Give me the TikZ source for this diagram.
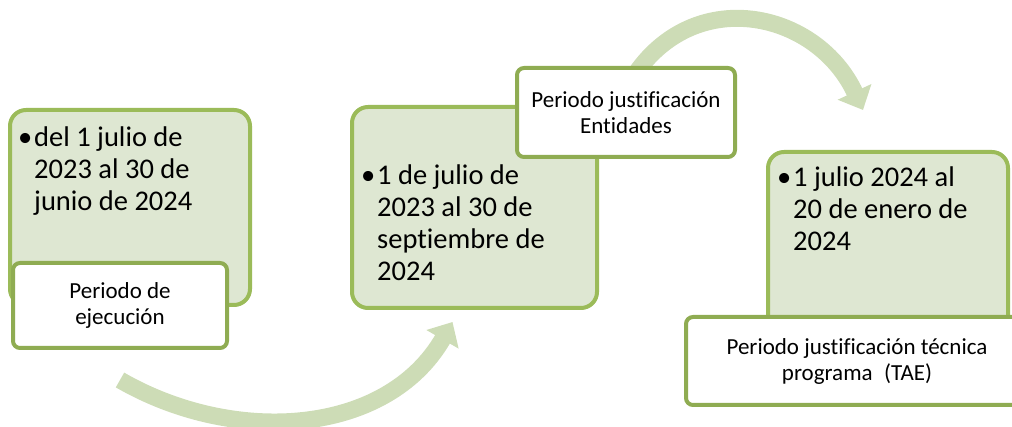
\documentclass[tikz,border=0pt]{standalone}
\usepackage{fontspec}
\setmainfont{Carlito}[Ligatures=CommonOff]
\usetikzlibrary{positioning, arrows.meta, backgrounds}
\definecolor{phaseline}{RGB}{155,187,89}
\definecolor{phasefill}{RGB}{222,231,210}
\definecolor{tagline}{RGB}{143,172,82}
\definecolor{flowgreen}{RGB}{205,220,182}

\begin{document}
\begin{tikzpicture}[
        x=1pt, y=-1pt,
        phase/.style={rectangle, draw=phaseline, fill=phasefill, line width=4pt, rounded corners=16pt, inner sep=0pt, outer sep=0pt},
        tagbox/.style={rectangle, draw=tagline, fill=white, line width=4pt, rounded corners=7pt, inner sep=0pt, outer sep=0pt, align=center, font=\fontsize{23}{26}\selectfont},
        dates/.style={align=left, anchor=north west, inner sep=0pt, font=\fontsize{28.5}{32}\selectfont},
        flow/.style={draw=flowgreen, line width=17pt, -{Triangle[width=36pt, length=20pt]}}
    ]
        \useasboundingbox (0,0) rectangle (1012,427);

        % Phases
        \node[phase, minimum width=240pt, minimum height=195pt] (G1) at (130,207.5) {};
        \node[dates, below right=17pt and 24pt of G1.north west] (D1) {\llap{•\kern2pt}del 1 julio de\\2023 al 30 de\\junio de 2024};
        \node[tagbox, minimum width=214pt, minimum height=85pt] (T1) at (120,305.5) {Periodo de\\ejecución};

        \node[phase, minimum width=245pt, minimum height=201pt] (G2) at (474.5,207.5) {};
        \node[dates, below right=58pt and 25pt of G2.north west] (D2) {\llap{•\kern2pt}1 de julio de\\2023 al 30 de\\septiembre de\\2024};
        \node[tagbox, minimum width=218pt, minimum height=89pt] (T2) at (626,112.5) {Periodo justificación\\Entidades};

        \node[phase, minimum width=240pt, minimum height=188pt] (G3) at (888,246) {};
        \node[dates, below right=15pt and 25pt of G3.north west] (D3) {\llap{•\kern2pt}1 julio 2024 al\\20 de enero de\\2024};
        \node[tagbox, minimum width=342pt, minimum height=88pt] (T3) at (857,361) {Periodo justificación técnica\\programa\enspace(TAE)};

        % Arrows behind
        \begin{scope}[on background layer]
            \draw[flow] ([yshift=-32pt]T1.south) to[out=-30, in=240] ([xshift=-22pt, yshift=-14pt]G2.south);
            \draw[flow] ([xshift=10pt, yshift=-5pt]T2.north) to[out=55, in=115, looseness=1.2] ([xshift=-25pt, yshift=42pt]G3.north);
        \end{scope}
    \end{tikzpicture}
\end{document}
